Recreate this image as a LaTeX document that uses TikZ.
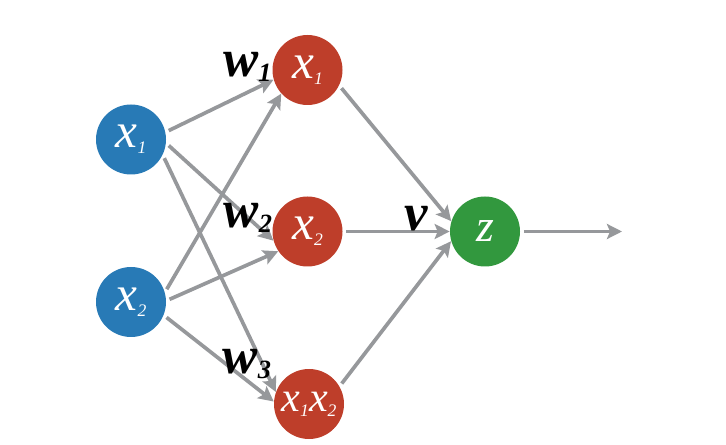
\documentclass[tikz,border=0pt]{standalone}
\usepackage{fontspec}
\setmainfont{Liberation Serif}
\usetikzlibrary{arrows.meta}
\definecolor{NNblue}{RGB}{40,122,182}
\definecolor{NNred}{RGB}{190,62,42}
\definecolor{NNgreen}{RGB}{50,152,62}
\definecolor{NNgray}{RGB}{150,152,155}
\newcommand{\nsub}[1]{\raisebox{-0.12em}{\fontsize{10}{10}\selectfont #1}}
\newcommand{\wsub}[1]{\raisebox{-0.08em}{\fontsize{15}{15}\selectfont #1}}
\tikzset{
  inunit/.style={circle,fill=NNblue,minimum size=1.40cm,inner sep=0pt,
                 text=white,font=\fontsize{28}{30}\selectfont\itshape},
  hidunit/.style={circle,fill=NNred,minimum size=1.40cm,inner sep=0pt,
                 text=white,font=\fontsize{28}{30}\selectfont\itshape},
  outunit/.style={circle,fill=NNgreen,minimum size=1.40cm,inner sep=0pt,
                 text=white,font=\fontsize{26}{30}\selectfont\itshape},
  fl/.style={-{Stealth[length=3mm,width=3mm,inset=0.6mm]},line width=2.1pt,
             draw=NNgray,shorten <=2pt},
  wlab/.style={font=\fontsize{30}{32}\selectfont\bfseries\itshape,
               inner sep=0pt,anchor=base}
}
\begin{document}
\begin{tikzpicture}
  \useasboundingbox (0,0) rectangle (14.52,-8.9);
  % units
  \node[inunit] (in1) at (2.62,-2.79) {x\nsub{1}};
  \node[inunit] (in2) at (2.62,-6.04) {x\nsub{2}};
  \node[hidunit] (h1) at (6.15,-1.40) {x\nsub{1}};
  \node[hidunit] (h2) at (6.15,-4.63) {x\nsub{2}};
  \node[hidunit] (h3) at (6.18,-8.08) {\fontsize{24}{26}\selectfont x\nsub{1}x\nsub{2}};
  \node[outunit] (z) at (9.70,-4.63) {z};
  \coordinate (zout) at (12.44,-4.63);
  % weights
  \draw[fl] (in1.12) -- (h1.196);
  \draw[fl] (in1.-6) -- (h2.195);
  \draw[fl] (in1.-26) -- (h3.160);
  \draw[fl] (in2.16) -- (h1.222);
  \draw[fl] (in2.2) -- (h2.214);
  \draw[fl] (in2.-22) -- (h3.176);
  \draw[fl] (h1.-26) -- (z.163);
  \draw[fl] (h2.east) -- (z.west);
  \draw[fl] (h3.30) -- (z.196);
  \draw[fl] (z.east) -- (zout);
  % labels
  \node[wlab] (lw1) at (4.95,-1.54) {w\wsub{1}};
  \node[wlab] (lw2) at (4.96,-4.56) {w\wsub{2}};
  \node[wlab] (lw3) at (4.94,-7.48) {w\wsub{3}};
  \node[wlab] (lv) at (8.32,-4.62) {v};
\end{tikzpicture}
\end{document}
